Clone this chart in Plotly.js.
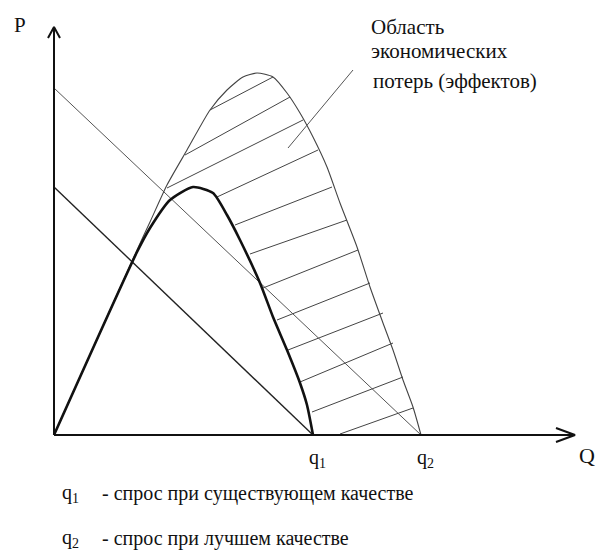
<!DOCTYPE html>
<html>
<head>
<meta charset="utf-8">
<script src="https://cdn.plot.ly/plotly-3.0.1.min.js"></script>
<style>
	html, body { margin: 0; padding: 0; background: #fff; }
	#plotDiv { width: 599px; height: 556px; }
</style>
</head>
<body>
<div id="plotDiv"></div>
<script>
/* Values (Q, P in drawing units) */
var q1 = 25.9;
var q2 = 36.7;
var pMax1 = 24.8;
var pMax2 = 34.7;
var axisQEnd = 52.1;
var axisPEnd = 40.8;

var revenue1Q = [0, 8.3, 9.6, 11.6, 13.9, 15.9, 17.3, 18.6, 20.6, 21.9, 23.3, 24.6, 25.3, 25.9];
var revenue1P = [0, 18.3, 20.7, 23.5, 24.8, 24.2, 22.0, 19.5, 15.2, 11.8, 8.5, 5.2, 3.0, 0];

var revenue2Q = [0, 8.3, 9.6, 11.3, 13.3, 15.6, 17.3, 18.9, 20.3, 21.9, 23.3, 24.6, 25.9, 27.3, 28.6, 30.3, 31.6, 32.9, 33.9, 34.9, 35.9, 36.7];
var revenue2P = [0, 18.5, 21.3, 25.0, 28.5, 32.5, 34.5, 35.8, 36.2, 35.8, 34.2, 32.2, 29.8, 26.8, 23.2, 18.8, 14.8, 11.2, 8.5, 5.5, 2.8, 0];

var hatchStartQ = [15.6, 13.1, 11.3, 16.3, 18.1, 19.6, 20.9, 22.3, 23.4, 24.6, 25.8, 28.6];
var hatchStartP = [32.5, 28.0, 24.7, 23.8, 21.0, 18.1, 14.7, 11.5, 8.5, 5.3, 2.3, 0.1];
var hatchEndQ = [21.9, 23.6, 24.9, 26.4, 27.8, 29.3, 30.4, 31.6, 32.9, 33.9, 34.9, 35.9];
var hatchEndP = [35.8, 33.8, 31.5, 28.5, 24.8, 21.5, 18.5, 15.2, 12.2, 9.2, 5.8, 2.7];

var leaderQ = [23.4, 29.9];
var leaderP = [28.7, 36.5];

var areaLabel = ['Область', 'экономических', 'потерь (эффектов)'];
var legendNames = ['q<sub>1</sub>', 'q<sub>2</sub>'];
var legendTexts = ['- спрос при существующем качестве', '- спрос при лучшем качестве'];

var serif = 'Liberation Serif, DejaVu Serif, serif';

function line(xs, ys, width, color) {
	return {
		x: xs, y: ys,
		mode: 'lines', type: 'scatter',
		line: { width: width, color: color },
		hoverinfo: 'skip'
	};
}

function buildHatch() {
	var xs = [], ys = [];
	for (var i = 0; i < hatchStartQ.length; i++) {
		xs.push(hatchStartQ[i], hatchEndQ[i], null);
		ys.push(hatchStartP[i], hatchEndP[i], null);
	}
	return line(xs, ys, 1, '#444');
}

function buildAxes() {
	// axis lines with open chevron tips
	var xs = [0, 0, null, 0, axisQEnd, null,
		-0.6, 0, 0.6, null,
		axisQEnd - 1.9, axisQEnd, axisQEnd - 1.9];
	var ys = [0, axisPEnd, null, 0, 0, null,
		axisPEnd - 1.1, axisPEnd, axisPEnd - 1.1, null,
		0.7, 0, -0.7];
	return line(xs, ys, 2, '#111');
}

var data = [
	buildHatch(),
	line([0, q1], [pMax1, 0], 1.4, '#222'),
	line([0, q2], [pMax2, 0], 1, '#555'),
	line(revenue2Q, revenue2P, 1.1, '#444'),
	line(revenue1Q, revenue1P, 2.6, '#111'),
	line(leaderQ, leaderP, 1, '#555'),
	buildAxes()
];
data[3].line.shape = 'spline';
data[3].line.smoothing = 0.6;
data[4].line.shape = 'spline';
data[4].line.smoothing = 0.6;

var annotations = [];
function addText(text, x, y, size, anchor) {
	annotations.push({
		text: text, x: x, y: y, xref: 'x', yref: 'y',
		showarrow: false, xanchor: anchor || 'left', yanchor: 'middle',
		font: { family: serif, size: size, color: '#111' }
	});
}

addText('P', -3.4, 41.0, 21, 'center');
addText('Q', 53.3, -2.0, 22, 'center');
addText('q<sub>1</sub>', q1 + 0.4, -2.3, 20, 'center');
addText('q<sub>2</sub>', q2 + 0.4, -2.3, 20, 'center');
var areaY = [40.8, 38.4, 35.4];
for (var i = 0; i < areaLabel.length; i++)
	addText(areaLabel[i], 31.5 + (i == 2 ? 0.2 : 0), areaY[i], 21);
for (var j = 0; j < legendNames.length; j++) {
	addText(legendNames[j], 0.6, -5.8 - j * 4.5, 20);
	addText(legendTexts[j], 4.6, -5.8 - j * 4.5, 20);
}

var layout = {
	width: 599, height: 556,
	margin: { l: 0, r: 0, t: 0, b: 0 },
	paper_bgcolor: '#fff', plot_bgcolor: '#fff',
	showlegend: false,
	xaxis: { range: [-5.4, 54.5], visible: false, fixedrange: true },
	yaxis: { range: [-12.1, 43.5], visible: false, fixedrange: true },
	annotations: annotations
};

Plotly.newPlot('plotDiv', data, layout, { staticPlot: true });
</script>
</body>
</html>
